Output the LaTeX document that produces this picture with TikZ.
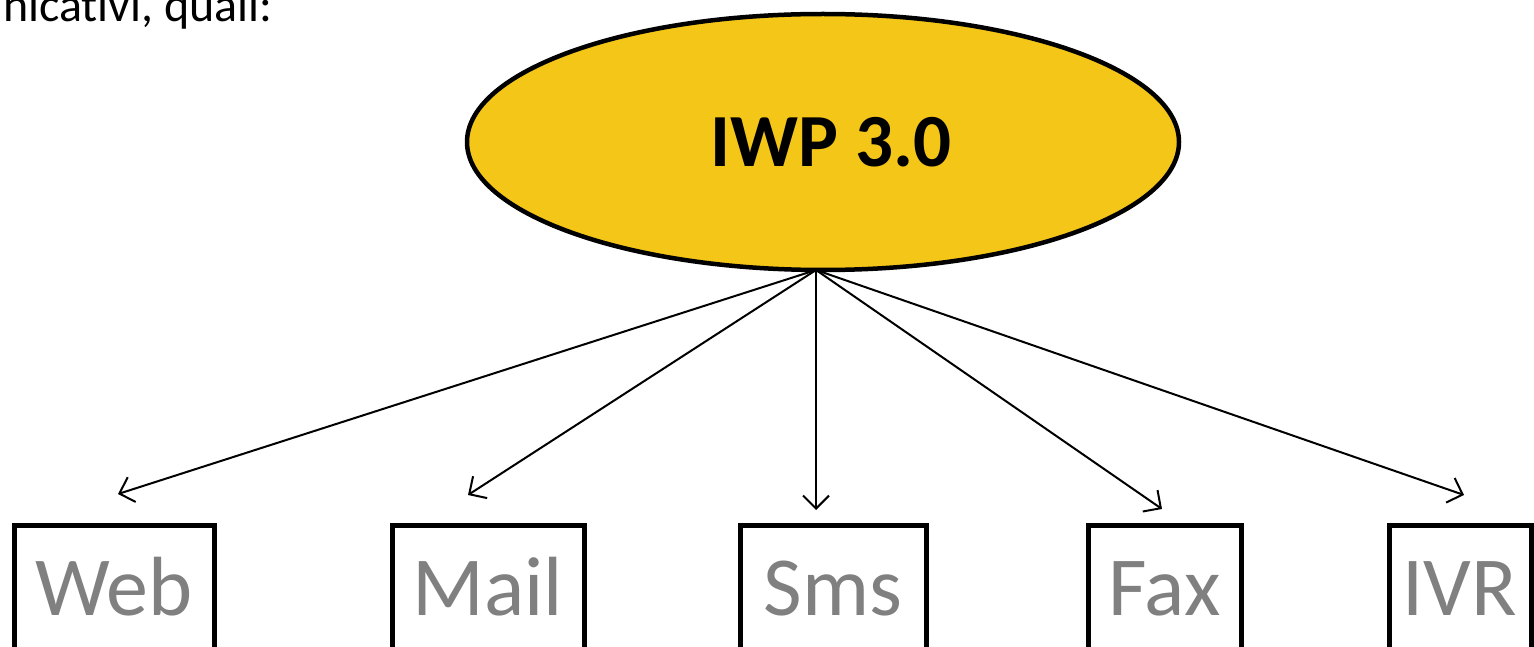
\documentclass[tikz,border=0pt]{standalone}
\usepackage{fontspec}
\setmainfont{Carlito}[Ligatures=NoCommon]
\usetikzlibrary{shapes.geometric,arrows.meta}
\definecolor{hubfill}{RGB}{244,198,24}
\definecolor{chgray}{RGB}{128,128,128}
\tikzset{
  hub/.style={ellipse, draw=black, line width=4.5pt, fill=hubfill, inner sep=0pt,
    minimum width=712pt, minimum height=256pt,
    font=\fontsize{75}{80}\selectfont\bfseries},
  channel/.style={rectangle, draw=black, line width=5pt, inner sep=0pt,
    minimum height=126pt, text height=55pt, text depth=0pt,
    text=chgray, font=\fontsize{84}{90}\selectfont},
  link/.style={line width=2pt, -{Straight Barb[length=13pt,width=26pt,line width=2pt]}}
}
\begin{document}
\begin{tikzpicture}[x=1pt,y=-1pt]
  \useasboundingbox (0,0) rectangle (1534,647);
  \clip (0,0) rectangle (1534,647);
  % lead-in text
  \node[anchor=base east, inner sep=0pt, font=\fontsize{48}{54}\selectfont] (intro) at (273,22) {nicativi, quali:};
  % central platform
  \node[hub] (iwp) at (823,142) {\hspace*{16pt}IWP 3.0};
  \coordinate (src) at (816,270);
  % channels
  \node[channel, minimum width=200pt] (web)  at (114,588)  {Web};
  \node[channel, minimum width=192pt] (mail) at (488,588)  {Mail};
  \node[channel, minimum width=186pt] (sms)  at (833,588)  {Sms};
  \node[channel, minimum width=153pt] (fax)  at (1164.5,588) {Fax};
  \node[channel, minimum width=142pt] (ivr)  at (1460,588) {IVR};
  % arrow ends
  \coordinate (eweb)  at (118,494);
  \coordinate (email) at (468,495);
  \coordinate (esms)  at (816,510);
  \coordinate (efax)  at (1162,509);
  \coordinate (eivr)  at (1464,495);
  \foreach \e in {eweb,email,esms,efax,eivr}
    \draw[link] (src) -- (\e);
\end{tikzpicture}
\end{document}
